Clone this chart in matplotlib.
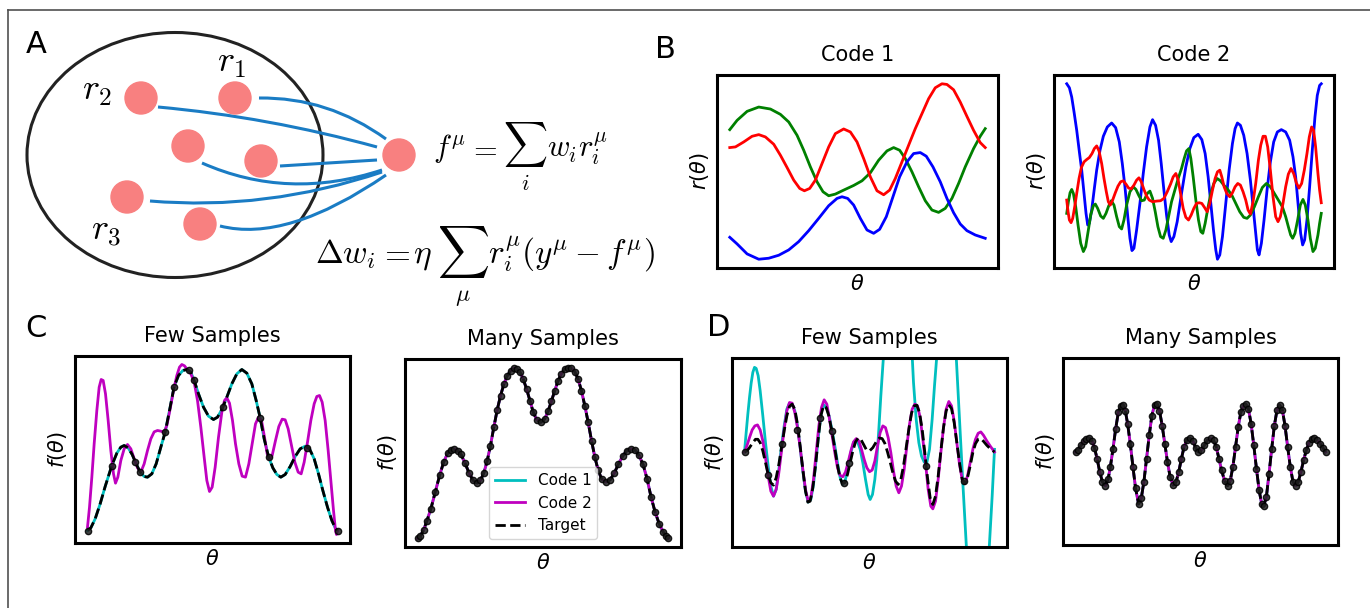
import matplotlib
matplotlib.use("Agg")
import matplotlib.pyplot as plt
from matplotlib.patches import Ellipse, Circle, PathPatch
from matplotlib.path import Path

# Panel A: nodes of the diagram (pixel positions of the sketch)
input_nodes = [(141, 98), (235, 98), (188, 146), (261, 161), (127, 197), (200, 224)]
output_node = (399, 155)
# connections: start, control, end
connections = [
    ((259, 98), (328, 97), (386, 139)),
    ((158, 107), (268, 117), (377, 147)),
    ((202, 163), (288, 201), (382, 170)),
    ((280, 166), (328, 163), (377, 160)),
    ((150, 201), (266, 211), (382, 172)),
    ((220, 226), (287, 243), (386, 175)),
]

# Panel B, code 1
b1_green_t = [0, 22, 52, 87, 122, 152, 177, 202, 222, 242, 262, 280, 297, 317, 342, 372, 397, 422, 447, 472,
              492, 510, 527, 547, 567, 587, 607, 627, 647, 667, 687, 707, 732, 752, 767]
b1_green_r = [417, 445, 472, 485, 479, 463, 440, 400, 355, 305, 260, 230, 218, 223, 235, 249, 263, 287, 325, 353,
              363, 355, 330, 290, 245, 203, 175, 168, 180, 210, 255, 305, 360, 397, 420]
b1_red_t = [0, 17, 42, 67, 87, 107, 132, 152, 172, 192, 210, 224, 240, 257, 277, 297, 317, 342, 362, 382,
            402, 422, 442, 462, 480, 497, 517, 537, 557, 577, 597, 617, 637, 652, 672, 692, 712, 732, 752, 767]
b1_red_r = [363, 365, 380, 397, 402, 395, 373, 340, 303, 265, 240, 233, 240, 265, 315, 365, 405, 419, 410, 380,
            330, 275, 233, 221, 235, 270, 320, 370, 420, 465, 510, 543, 555, 553, 537, 500, 457, 415, 378, 363]
b1_blue_t = [0, 22, 52, 87, 117, 147, 177, 207, 237, 267, 297, 322, 337, 354, 372, 392, 412, 432, 450, 470,
             490, 510, 532, 552, 572, 590, 610, 632, 652, 672, 692, 712, 737, 767]
b1_blue_r = [93, 73, 43, 27, 30, 39, 55, 80, 113, 150, 188, 210, 215, 210, 190, 150, 115, 105, 117, 155,
             215, 275, 320, 345, 348, 337, 305, 260, 210, 167, 133, 113, 100, 90]

# Panel B, code 2
b2_blue_t = [0, 8, 15, 22, 30, 38, 45, 52, 58, 63, 68, 75, 83, 90, 100, 110, 122, 135, 147, 158,
             167, 175, 183, 190, 196, 202, 210, 220, 230, 240, 250, 258, 267, 276, 284, 292, 300, 308, 314, 322,
             332, 345, 358, 370, 382, 395, 406, 416, 425, 433, 441, 448, 453, 460, 468, 478, 488, 498, 506, 513,
             522, 532, 542, 552, 560, 567, 573, 578, 585, 593, 602, 612, 622, 633, 645, 658, 670, 680, 688, 696,
             703, 709, 715, 722, 730, 738, 746, 753, 760, 765]
b2_blue_r = [555, 543, 515, 470, 415, 350, 295, 225, 165, 130, 135, 175, 240, 295, 355, 397, 425, 437, 423, 380,
             315, 245, 160, 90, 53, 60, 115, 195, 285, 365, 425, 447, 430, 385, 315, 235, 160, 100, 80, 95,
             140, 225, 305, 360, 393, 403, 387, 345, 275, 195, 115, 55, 27, 40, 95, 195, 295, 375, 420, 437,
             430, 400, 345, 265, 185, 115, 55, 40, 75, 145, 235, 320, 380, 410, 417, 410, 385, 335, 275, 185,
             105, 70, 85, 145, 245, 355, 455, 520, 550, 555]
b2_green_t = [0, 5, 10, 15, 20, 27, 34, 42, 50, 57, 65, 72, 80, 86, 93, 102, 110, 118, 126, 134,
              142, 150, 158, 165, 172, 180, 190, 200, 208, 216, 225, 233, 242, 250, 258, 266, 274, 282, 290, 298,
              306, 315, 325, 335, 345, 353, 360, 367, 373, 380, 388, 396, 403, 409, 416, 425, 433, 442, 452, 462,
              472, 484, 496, 508, 520, 532, 542, 552, 564, 576, 588, 600, 612, 624, 636, 648, 658, 666, 673, 679,
              686, 694, 702, 710, 717, 725, 732, 740, 747, 755, 760, 765]
b2_green_r = [165, 200, 227, 237, 225, 185, 130, 75, 50, 65, 115, 160, 188, 193, 180, 157, 150, 165, 187, 203,
              190, 155, 125, 118, 145, 190, 230, 245, 237, 220, 203, 205, 225, 232, 210, 170, 125, 95, 90, 115,
              155, 200, 235, 270, 300, 330, 353, 360, 330, 275, 205, 145, 110, 105, 135, 185, 225, 255, 270, 263,
              250, 237, 220, 195, 170, 153, 150, 160, 185, 215, 243, 255, 245, 225, 205, 185, 155, 125, 100, 90,
              105, 145, 190, 207, 190, 145, 90, 50, 60, 100, 135, 165]
b2_red_t = [0, 4, 8, 13, 18, 24, 30, 37, 44, 52, 60, 68, 76, 83, 90, 97, 105, 112, 119, 125,
            131, 138, 146, 154, 162, 170, 178, 186, 194, 202, 210, 217, 224, 232, 240, 248, 258, 270, 282, 292,
            302, 312, 320, 328, 335, 342, 350, 358, 366, 374, 382, 390, 398, 406, 414, 422, 430, 438, 446, 453,
            460, 466, 473, 481, 490, 498, 506, 514, 522, 530, 538, 545, 552, 560, 568, 576, 583, 590, 597, 604,
            612, 620, 628, 635, 642, 650, 658, 666, 674, 682, 690, 698, 706, 714, 722, 729, 736, 742, 748, 755,
            760, 765]
b2_red_r = [205, 170, 145, 137, 150, 185, 225, 270, 303, 320, 327, 333, 345, 360, 368, 353, 315, 270, 230, 200,
            190, 205, 227, 247, 260, 263, 253, 241, 239, 250, 265, 272, 260, 237, 217, 205, 200, 202, 203, 210,
            230, 253, 275, 285, 265, 225, 180, 153, 145, 160, 180, 195, 197, 195, 183, 170, 195, 235, 270, 290,
            295, 275, 245, 225, 215, 227, 245, 255, 250, 230, 205, 175, 163, 200, 255, 325, 370, 397, 397, 365,
            295, 215, 155, 140, 155, 195, 245, 283, 300, 285, 257, 241, 255, 295, 345, 395, 425, 415, 365, 285,
            235, 197]

# Panel C, few samples
c_few_target_t = [0, 10, 23, 38, 53, 73, 88, 100, 110, 122, 134, 146, 158, 170, 180, 193, 206, 220, 233, 246,
                  260, 273, 286, 298, 310, 320, 333, 348, 363, 378, 390, 403, 418, 433, 448, 463, 478, 493, 506, 518,
                  530, 543, 556, 568, 580, 593, 608, 623, 638, 653, 666, 680, 693, 706, 720, 733, 743, 750]
c_few_target_f = [40, 48, 75, 120, 172, 235, 272, 290, 295, 288, 268, 240, 215, 202, 200, 210, 240, 290, 335, 400,
                  472, 505, 520, 523, 515, 490, 450, 410, 383, 373, 380, 403, 440, 480, 510, 523, 512, 480, 430, 378,
                  315, 262, 228, 208, 200, 208, 232, 262, 285, 293, 285, 255, 210, 160, 110, 70, 48, 40]
c_few_code2_t = [0, 6, 13, 20, 28, 35, 41, 47, 54, 62, 70, 78, 84, 91, 100, 110, 120, 130, 140, 150,
                 160, 170, 180, 190, 200, 210, 220, 230, 238, 248, 258, 268, 276, 283, 291, 300, 310, 320, 330, 340,
                 350, 358, 366, 374, 383, 393, 403, 411, 418, 426, 435, 444, 454, 464, 474, 484, 494, 504, 513, 522,
                 531, 539, 546, 554, 564, 574, 584, 593, 602, 612, 622, 632, 641, 650, 660, 670, 680, 688, 696, 704,
                 713, 722, 730, 738, 744, 747, 750]
c_few_code2_f = [50, 110, 200, 300, 400, 470, 493, 490, 450, 370, 280, 210, 182, 200, 250, 285, 298, 285, 255, 228,
                 215, 240, 280, 315, 336, 340, 338, 335, 355, 405, 460, 505, 530, 538, 534, 522, 510, 485, 430, 350,
                 260, 190, 157, 170, 230, 320, 395, 430, 438, 422, 370, 300, 240, 203, 200, 240, 300, 360, 380, 370,
                 320, 270, 253, 265, 310, 352, 374, 372, 345, 295, 245, 215, 210, 245, 305, 370, 420, 442, 445, 425,
                 370, 280, 190, 100, 40, 28, 40]
c_few_samples_t = [0, 73, 143, 156, 233, 260, 303, 318, 406, 518, 543, 658, 750]
c_few_samples_f = [40, 235, 245, 215, 335, 472, 522, 492, 410, 378, 262, 288, 40]

# Panel C, many samples
c_many_t = [0, 8, 18, 28, 40, 53, 66, 78, 90, 100, 110, 120, 130, 142, 154, 166, 178, 188, 198, 208,
            218, 228, 238, 248, 258, 268, 278, 288, 296, 306, 316, 326, 336, 346, 356, 368, 380, 390, 400, 410,
            420, 430, 440, 450, 460, 470, 480, 490, 500, 510, 520, 530, 540, 550, 563, 576, 588, 600, 613, 626,
            638, 650, 662, 674, 686, 698, 710, 722, 734, 742, 750]
c_many_f = [27, 34, 52, 80, 117, 167, 217, 257, 284, 295, 297, 292, 280, 254, 224, 202, 194, 202, 224, 260,
            307, 362, 414, 457, 492, 517, 532, 540, 539, 529, 507, 477, 442, 407, 385, 377, 387, 410, 440, 472,
            502, 524, 537, 542, 540, 530, 507, 472, 427, 377, 322, 272, 232, 207, 197, 204, 224, 250, 275, 292,
            297, 294, 277, 250, 207, 152, 107, 72, 47, 34, 27]

# Panel D, few samples
d_few_target_t = [0, 7, 15, 25, 33, 40, 47, 55, 63, 71, 79, 87, 95, 103, 111, 119, 127, 135, 143, 151,
                  159, 167, 175, 183, 190, 197, 205, 213, 221, 229, 237, 245, 253, 261, 269, 277, 285, 293, 301, 309,
                  317, 325, 333, 341, 349, 357, 365, 375, 385, 395, 405, 413, 421, 429, 437, 445, 453, 461, 469, 477,
                  485, 493, 501, 509, 517, 525, 533, 541, 549, 557, 565, 573, 581, 589, 597, 605, 613, 621, 629, 637,
                  645, 653, 661, 669, 677, 685, 693, 701, 709, 717, 727, 737, 750]
d_few_target_f = [284, 287, 297, 312, 322, 322, 312, 287, 252, 217, 192, 185, 207, 247, 297, 347, 392, 420, 427, 412,
                  367, 302, 232, 167, 134, 137, 177, 242, 322, 392, 422, 417, 392, 352, 307, 257, 212, 190, 192, 217,
                  252, 287, 314, 326, 322, 307, 292, 287, 297, 314, 326, 324, 310, 284, 254, 222, 197, 187, 202, 242,
                  297, 352, 400, 422, 424, 402, 352, 282, 207, 147, 127, 152, 212, 287, 357, 407, 425, 414, 372, 312,
                  252, 202, 190, 207, 242, 282, 309, 322, 324, 316, 304, 294, 284]
d_few_code2_t = [0, 7, 15, 23, 31, 39, 47, 55, 63, 71, 79, 87, 95, 103, 111, 119, 127, 135, 143, 151,
                 159, 167, 175, 183, 191, 199, 207, 215, 223, 231, 239, 247, 255, 263, 271, 279, 287, 295, 303, 311,
                 319, 327, 335, 343, 351, 359, 367, 375, 383, 391, 399, 407, 415, 423, 431, 439, 447, 455, 463, 471,
                 479, 487, 495, 503, 511, 519, 527, 535, 543, 551, 559, 565, 573, 581, 589, 597, 605, 613, 621, 629,
                 637, 645, 653, 661, 669, 677, 685, 693, 701, 709, 717, 727, 737, 750]
d_few_code2_f = [284, 302, 327, 350, 362, 365, 350, 317, 267, 212, 167, 152, 172, 222, 287, 352, 407, 432, 430, 402,
                 357, 297, 232, 172, 137, 147, 202, 282, 362, 417, 440, 427, 382, 332, 282, 237, 214, 210, 224, 254,
                 287, 314, 324, 317, 292, 262, 237, 225, 230, 257, 302, 342, 362, 357, 327, 282, 227, 182, 162, 182,
                 232, 302, 367, 412, 427, 422, 387, 322, 252, 172, 122, 114, 137, 202, 282, 357, 412, 435, 422, 377,
                 312, 247, 202, 190, 212, 252, 292, 322, 340, 344, 334, 317, 302, 284]
d_few_code1_t = [0, 5, 10, 15, 20, 25, 30, 35, 41, 47, 55, 63, 71, 79, 87, 95, 103, 111, 119, 127,
                 135, 143, 151, 159, 167, 175, 183, 191, 199, 207, 215, 223, 231, 239, 247, 255, 263, 271, 279, 287,
                 295, 303, 311, 319, 327, 333, 340, 347, 355, 363, 371, 377, 384, 391, 397, 403, 409, 415, 420, 435,
                 460, 485, 500, 507, 515, 523, 531, 539, 547, 555, 563, 570, 577, 585, 605, 625, 635, 645, 655, 665,
                 675, 700, 725, 735, 743, 750]
d_few_code1_f = [284, 342, 397, 447, 490, 522, 537, 534, 512, 467, 392, 312, 242, 182, 152, 172, 232, 302, 362, 412,
                 430, 427, 407, 362, 297, 227, 167, 134, 142, 187, 262, 342, 407, 424, 415, 387, 347, 302, 252, 207,
                 187, 202, 242, 282, 312, 317, 312, 292, 252, 202, 157, 142, 157, 202, 262, 352, 452, 542, 612, 812,
                 962, 812, 632, 492, 382, 312, 272, 254, 252, 292, 382, 482, 572, 692, 862, 712, 572, 382, 192, 12,
                 -158, -288, -158, 12, 152, 292]
d_few_samples_t = [3, 72, 113, 157, 227, 263, 298, 315, 545, 657]
d_few_samples_f = [284, 215, 307, 350, 387, 347, 190, 250, 242, 197]

# Panel D, many samples
d_many_t = [0, 8, 17, 25, 33, 42, 50, 57, 65, 73, 81, 90, 98, 105, 113, 121, 129, 137, 143, 150,
            157, 165, 173, 181, 190, 198, 206, 214, 222, 230, 238, 245, 253, 261, 269, 277, 285, 294, 303, 311,
            319, 327, 336, 345, 354, 362, 370, 379, 388, 397, 407, 416, 424, 432, 440, 449, 458, 466, 474, 482,
            490, 498, 506, 513, 521, 529, 537, 545, 553, 561, 567, 575, 583, 591, 599, 607, 615, 623, 631, 639,
            647, 655, 663, 671, 679, 687, 695, 703, 711, 718, 727, 737, 745, 753]
d_many_f = [281, 288, 301, 314, 321, 323, 314, 294, 261, 221, 191, 179, 198, 236, 291, 351, 401, 421, 423, 406,
            366, 306, 236, 171, 124, 141, 191, 261, 331, 391, 423, 426, 406, 361, 306, 251, 206, 181, 191, 221,
            261, 296, 318, 323, 313, 294, 281, 286, 301, 316, 322, 316, 296, 261, 226, 194, 179, 194, 236, 296,
            356, 401, 421, 426, 411, 366, 301, 231, 166, 123, 118, 146, 216, 291, 361, 408, 423, 408, 361, 296,
            236, 191, 179, 191, 221, 256, 286, 308, 320, 323, 318, 306, 294, 281]
d_ylim = (0, 565)

LW = 2.0


def style(ax, title, ylabel):
    ax.set_xticks([])
    ax.set_yticks([])
    for s in ax.spines.values():
        s.set_linewidth(2.2)
    ax.set_title(title, fontsize=15, pad=10)
    ax.set_xlabel(r"$\theta$", fontsize=15)
    ax.set_ylabel(ylabel, fontsize=15)


def fit_panel(ax, t1, f1, t2, f2, tt, ft, ts, fs):
    ax.plot(t1, f1, "c", lw=LW, label="Code 1")
    ax.plot(t2, f2, "m", lw=LW, label="Code 2")
    ax.plot(tt, ft, "k--", lw=LW, label="Target")
    ax.plot(ts, fs, "o", ms=4.5, color="#222222", mec="k", alpha=0.85)


def cm(ax, x, y, s, size, **kw):
    ax.text(x, y, s, fontsize=size, math_fontfamily="cm", **kw)


fig = plt.figure(figsize=(13.7, 6.08), dpi=100)

# full-figure layer for panel A and the letters
ax0 = fig.add_axes([0, 0, 1, 1])
ax0.set_xlim(0, 1370)
ax0.set_ylim(608, 0)
ax0.axis("off")
ax0.plot([8, 1370], [10, 10], color="#505050", lw=1.2)
ax0.plot([8, 8], [10, 608], color="#505050", lw=1.2)
ax0.add_patch(Ellipse((175, 155), 296, 245, fill=False, ec="#222222", lw=2.2))
for start, ctrl, end in connections:
    p = Path([start, ctrl, end], [Path.MOVETO, Path.CURVE3, Path.CURVE3])
    ax0.add_patch(PathPatch(p, fill=False, ec="#1a7cc4", lw=2.2))
for node in input_nodes + [output_node]:
    ax0.add_patch(Circle(node, 16, color="#f88080", zorder=3))
cm(ax0, 217, 72, r"$r_1$", 26, va="baseline")
cm(ax0, 82, 100, r"$r_2$", 26, va="baseline")
cm(ax0, 91, 240, r"$r_3$", 26, va="baseline")

# f = sum_i w_i r_i
cm(ax0, 433, 157, r"$f^{\mu}$", 22, va="baseline")
cm(ax0, 483, 157, r"$=$", 22, va="baseline", ha="center")
cm(ax0, 525, 145, r"$\sum$", 22, va="center", ha="center")
cm(ax0, 525, 184, r"$i$", 16, va="center", ha="center")
cm(ax0, 547, 157, r"$w_i r_i^{\mu}$", 22, va="baseline")
# delta w = eta sum_mu r (y - f)
cm(ax0, 315, 263, r"$\Delta w_i$", 24, va="baseline")
cm(ax0, 395, 263, r"$=$", 24, va="baseline", ha="center")
cm(ax0, 422, 263, r"$\eta$", 24, va="baseline", ha="center")
cm(ax0, 463, 252, r"$\sum$", 26, va="center", ha="center")
cm(ax0, 463, 296, r"$\mu$", 17, va="center", ha="center")
cm(ax0, 488, 263, r"$r_i^{\mu}(y^{\mu} - f^{\mu})$", 24, va="baseline")

for letter, x, y in [("A", 26, 53), ("B", 655, 58), ("C", 25, 337), ("D", 707, 336)]:
    ax0.text(x, y, letter, fontsize=22, va="baseline")

W, H = 1370, 608


def box(left, top, right, bottom):
    return [left / W, (H - bottom) / H, (right - left) / W, (bottom - top) / H]


# B
ax = fig.add_axes(box(717, 75, 998, 268))
ax.plot(b1_green_t, b1_green_r, "g", lw=LW)
ax.plot(b1_red_t, b1_red_r, "r", lw=LW)
ax.plot(b1_blue_t, b1_blue_r, "b", lw=LW)
style(ax, "Code 1", r"$r(\theta)$")

ax = fig.add_axes(box(1054, 75, 1334, 268))
ax.plot(b2_blue_t, b2_blue_r, "b", lw=LW)
ax.plot(b2_green_t, b2_green_r, "g", lw=LW)
ax.plot(b2_red_t, b2_red_r, "r", lw=LW)
style(ax, "Code 2", r"$r(\theta)$")

# C
ax = fig.add_axes(box(75, 356, 350, 543))
fit_panel(ax, c_few_target_t, c_few_target_f, c_few_code2_t, c_few_code2_f,
          c_few_target_t, c_few_target_f, c_few_samples_t, c_few_samples_f)
style(ax, "Few Samples", r"$f(\theta)$")

ax = fig.add_axes(box(405, 359, 681, 547))
fit_panel(ax, c_many_t, c_many_f, c_many_t, c_many_f, c_many_t, c_many_f, c_many_t, c_many_f)
style(ax, "Many Samples", r"$f(\theta)$")
ax.legend(loc="lower center", fontsize=11)

# D
ax = fig.add_axes(box(732, 358, 1007, 547))
fit_panel(ax, d_few_code1_t, d_few_code1_f, d_few_code2_t, d_few_code2_f,
          d_few_target_t, d_few_target_f, d_few_samples_t, d_few_samples_f)
ax.set_ylim(d_ylim)
style(ax, "Few Samples", r"$f(\theta)$")

ax = fig.add_axes(box(1063, 358, 1338, 545))
fit_panel(ax, d_many_t, d_many_f, d_many_t, d_many_f, d_many_t, d_many_f, d_many_t, d_many_f)
ax.set_ylim(d_ylim)
style(ax, "Many Samples", r"$f(\theta)$")

fig.savefig("out.png", dpi=100)
